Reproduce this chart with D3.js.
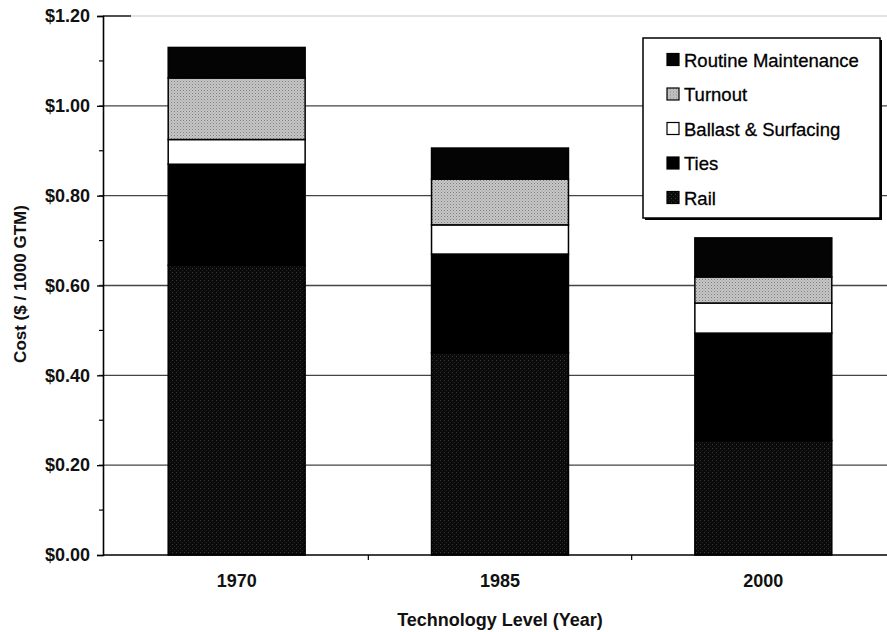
<!DOCTYPE html>
<html>
<head>
<meta charset="utf-8">
<script src="https://cdn.jsdelivr.net/npm/d3@7"></script>
<style>
  body { margin: 0; background: #fff; }
  text { font-family: "Liberation Sans", Arial, sans-serif; }
</style>
</head>
<body>
<div id="chart"></div>
<script>
// categories and series (cost in $ / 1000 GTM)
var years = ["1970", "1985", "2000"]
var seriesNames = ["Rail", "Ties", "Ballast & Surfacing", "Turnout", "Routine Maintenance"]
var rail     = [0.645, 0.450, 0.255]
var ties     = [0.225, 0.220, 0.239]
var ballast  = [0.055, 0.065, 0.067]
var turnout  = [0.137, 0.102, 0.058]
var routine  = [0.068, 0.069, 0.087]
var yTicks   = [0, 0.2, 0.4, 0.6, 0.8, 1.0, 1.2]
var yMinor   = [0.1, 0.3, 0.5, 0.7, 0.9, 1.1]
var legendOrder = ["Routine Maintenance", "Turnout", "Ballast & Surfacing", "Ties", "Rail"]

var rows = years.map(function (y, i) {
    return { year: y, "Rail": rail[i], "Ties": ties[i], "Ballast & Surfacing": ballast[i],
             "Turnout": turnout[i], "Routine Maintenance": routine[i] }
})

var width = 887, height = 632
// note: "top" is a reserved window property, so use plot* names
var plotLeft = 105, plotRight = 895, plotTop = 16, plotBottom = 555

var svg = d3.select("#chart").append("svg")
    .attr("width", width).attr("height", height)

// textures
var defs = svg.append("defs")
var pt = defs.append("pattern").attr("id", "turnoutPat")
    .attr("width", 3).attr("height", 3).attr("patternUnits", "userSpaceOnUse")
pt.append("rect").attr("width", 3).attr("height", 3).attr("fill", "#c6c6c6")
pt.append("rect").attr("width", 1).attr("height", 1).attr("fill", "#7e7e7e")
pt.append("rect").attr("x", 1.5).attr("y", 1.5).attr("width", 1).attr("height", 1).attr("fill", "#9c9c9c")

var pr = defs.append("pattern").attr("id", "railPat")
    .attr("width", 4).attr("height", 4).attr("patternUnits", "userSpaceOnUse")
pr.append("rect").attr("width", 4).attr("height", 4).attr("fill", "#0a0a0a")
pr.append("rect").attr("width", 1).attr("height", 1).attr("fill", "#3a3a3a")
pr.append("rect").attr("x", 2).attr("y", 2).attr("width", 1).attr("height", 1).attr("fill", "#262626")

var fills = {
    "Rail": "url(#railPat)",
    "Ties": "#000",
    "Ballast & Surfacing": "#fff",
    "Turnout": "url(#turnoutPat)",
    "Routine Maintenance": "#040404"
}

var x = d3.scaleBand().domain(years).range([plotLeft, plotRight])
    .paddingInner(0.48).paddingOuter(0.24)
var y = d3.scaleLinear().domain([0, 1.2]).range([plotBottom, plotTop])

// gridlines
svg.append("g")
    .selectAll("line")
    .data(yTicks.filter(function (d) { return d > 0 }))
    .enter().append("line")
    .attr("x1", plotLeft - 6).attr("x2", width)
    .attr("y1", function (d) { return y(d) }).attr("y2", function (d) { return y(d) })
    .attr("stroke", function (d) { return d == 1.2 ? "#dadada" : "#444" })
    .attr("stroke-width", 1.3)

// y axis
var yAxis = svg.append("g")
    .attr("transform", "translate(" + (plotLeft - 2) + ",0)")
    .call(d3.axisLeft(y).tickValues(yTicks).tickFormat(d3.format("$.2f")).tickSize(6).tickPadding(7))
yAxis.select(".domain").attr("stroke", "#000").attr("stroke-width", 1.6)
yAxis.selectAll(".tick line").attr("stroke", "#000").attr("stroke-width", 1.3)
yAxis.selectAll("text")
    .attr("font-size", 18).attr("font-weight", "bold").attr("fill", "#111")
yAxis.selectAll(".minor").data(yMinor).enter().append("line")
    .attr("class", "minor")
    .attr("x1", -4).attr("x2", 0)
    .attr("y1", function (d) { return y(d) }).attr("y2", function (d) { return y(d) })
    .attr("stroke", "#000").attr("stroke-width", 1.2)
// short dark stub at the top tick, as in the scan
yAxis.append("line")
    .attr("x1", 0).attr("x2", 28)
    .attr("y1", y(1.2)).attr("y2", y(1.2))
    .attr("stroke", "#000").attr("stroke-width", 1.3)

// stacked bars
var stacked = d3.stack().keys(seriesNames)(rows)
svg.append("g")
    .selectAll("g")
    .data(stacked)
    .enter().append("g")
    .attr("fill", function (s) { return fills[s.key] })
    .selectAll("rect")
    .data(function (s) { return s })
    .enter().append("rect")
    .attr("x", function (d) { return x(d.data.year) })
    .attr("width", x.bandwidth())
    .attr("y", function (d) { return y(d[1]) })
    .attr("height", function (d) { return y(d[0]) - y(d[1]) })
    .attr("stroke", "#000")
    .attr("stroke-width", 1.5)

// x axis
var xAxis = svg.append("g")
    .attr("transform", "translate(0," + plotBottom + ")")
    .call(d3.axisBottom(x).tickSize(0).tickPadding(19))
xAxis.select(".domain").remove()
xAxis.selectAll("text")
    .attr("font-size", 18).attr("font-weight", "bold").attr("fill", "#111")
svg.append("line")
    .attr("x1", plotLeft - 2).attr("x2", width)
    .attr("y1", plotBottom).attr("y2", plotBottom)
    .attr("stroke", "#000").attr("stroke-width", 1.6)
// category separator ticks
svg.append("g").selectAll("line")
    .data(years.slice(1))
    .enter().append("line")
    .attr("x1", function (d) { return x(d) - x.step() * x.paddingInner() / 2 })
    .attr("x2", function (d) { return x(d) - x.step() * x.paddingInner() / 2 })
    .attr("y1", plotBottom).attr("y2", plotBottom + 5)
    .attr("stroke", "#000").attr("stroke-width", 1.2)

// axis titles
svg.append("text")
    .attr("x", (plotLeft + plotRight) / 2).attr("y", 626)
    .attr("text-anchor", "middle")
    .attr("font-size", 18).attr("font-weight", "bold").attr("fill", "#111")
    .text("Technology Level (Year)")

svg.append("text")
    .attr("transform", "translate(26,284) rotate(-90)")
    .attr("text-anchor", "middle")
    .attr("font-size", 17).attr("font-weight", "bold").attr("fill", "#111")
    .text("Cost ($ / 1000 GTM)")

// legend
var lg = svg.append("g")
lg.append("rect")
    .attr("x", 645).attr("y", 40).attr("width", 237).attr("height", 180)
    .attr("fill", "#000")
lg.append("rect")
    .attr("x", 643).attr("y", 38).attr("width", 237).attr("height", 180)
    .attr("fill", "#fff").attr("stroke", "#000").attr("stroke-width", 1.5)

var item = lg.selectAll(".item")
    .data(legendOrder)
    .enter().append("g")
    .attr("class", "item")
    .attr("transform", function (d, i) { return "translate(667," + (60 + i * 34.5) + ")" })
item.append("rect")
    .attr("x", 0).attr("y", -6.5).attr("width", 12).attr("height", 12)
    .attr("fill", function (d) { return fills[d] })
    .attr("stroke", "#000").attr("stroke-width", 1.2)
item.append("text")
    .attr("x", 17).attr("y", 6.5)
    .attr("font-size", 18.5).attr("fill", "#000")
    .attr("stroke", "#000").attr("stroke-width", 0.3)
    .text(function (d) { return d })
</script>
</body>
</html>
